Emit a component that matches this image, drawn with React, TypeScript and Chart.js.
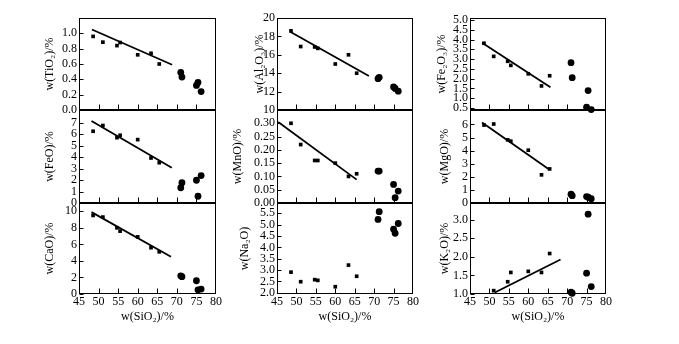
import React, { useEffect, useRef } from "react";
import { Chart, registerables } from "chart.js";

Chart.register(...registerables);

const FONT = "'Liberation Serif', 'Times New Roman', 'DejaVu Serif', serif";

// Shared SiO2 contents (x values)
const siO2Squares = [48.6, 51.1, 54.7, 55.5, 60.0, 63.4, 65.5];
const siO2Circles = [71.0, 71.3, 75.0, 75.4, 76.2];
const xTickValues = [45, 50, 55, 60, 65, 70, 75, 80];
const innerXTicks = [50, 55, 60, 65, 70, 75];

// TiO2
const tiO2Squares = [0.96, 0.885, 0.84, 0.88, 0.72, 0.74, 0.6];
const tiO2Circles = [0.49, 0.43, 0.32, 0.36, 0.24];
const tiO2TrendX = [48.3, 68.8];
const tiO2TrendY = [1.05, 0.59];
const tiO2Ticks = [0, 0.2, 0.4, 0.6, 0.8, 1.0];

// FeO
const feOSquares = [6.25, 6.75, 5.69, 5.9, 5.52, 3.92, 3.51];
const feOCircles = [1.33, 1.77, 1.98, 0.59, 2.39];
const feOTrendX = [48.2, 68.7];
const feOTrendY = [7.14, 3.07];
const feOTicks = [0, 1, 2, 3, 4, 5, 6, 7];

// CaO
const caOSquares = [9.5, 9.3, 8.0, 7.6, 6.9, 5.6, 5.1];
const caOCircles = [2.2, 2.1, 1.6, 0.5, 0.6];
const caOTrendX = [48.2, 68.5];
const caOTrendY = [9.9, 4.5];
const caOTicks = [0, 2, 4, 6, 8, 10];

// Al2O3
const al2O3Squares = [18.6, 16.9, 16.85, 16.7, 15.0, 16.0, 14.0];
const al2O3Circles = [13.4, 13.55, 12.5, 12.35, 12.05];
const al2O3TrendX = [48.4, 68.65];
const al2O3TrendY = [18.5, 13.7];
const al2O3Ticks = [10, 12, 14, 16, 18, 20];

// MnO
const mnOSquares = [0.3, 0.22, 0.16, 0.16, 0.15, 0.1, 0.11];
const mnOCircles = [0.12, 0.12, 0.07, 0.02, 0.045];
const mnOTrendX = [45.3, 65.5];
const mnOTrendY = [0.305, 0.088];
const mnOTicks = [0, 0.05, 0.1, 0.15, 0.2, 0.25, 0.3];

// Na2O
const na2OSquares = [2.91, 2.49, 2.58, 2.55, 2.27, 3.22, 2.73];
const na2OCircles = [5.23, 5.57, 4.8, 4.62, 5.05];
const na2OTicks = [2.0, 2.5, 3.0, 3.5, 4.0, 4.5, 5.0, 5.5];

// Fe2O3
const fe2O3Squares = [3.81, 3.14, 2.89, 2.68, 2.25, 1.63, 2.15];
const fe2O3Circles = [2.82, 2.05, 0.54, 1.39, 0.42];
const fe2O3TrendX = [48.1, 65.7];
const fe2O3TrendY = [3.83, 1.56];
const fe2O3Ticks = [0.5, 1.0, 1.5, 2.0, 2.5, 3.0, 3.5, 4.0, 4.5, 5.0];

// MgO
const mgOSquares = [5.95, 6.03, 4.82, 4.72, 4.03, 2.15, 2.6];
const mgOCircles = [0.67, 0.56, 0.49, 0.44, 0.33];
const mgOTrendX = [48.1, 65.2];
const mgOTrendY = [6.15, 2.6];
const mgOTicks = [0, 1, 2, 3, 4, 5, 6];

// K2O
const k2OSquares = [null, 1.09, 1.33, 1.58, 1.61, 1.58, 2.09];
const k2OCircles = [1.05, 1.02, 1.56, 3.15, 1.2];
const k2OTrendX = [51.4, 68.3];
const k2OTrendY = [1.04, 1.93];
const k2OTicks = [1.0, 1.5, 2.0, 2.5, 3.0];

type Panel = {
  key: string;
  title: string;
  plotL: number;
  plotT: number;
  plotW: number;
  plotH: number;
  axisW: number;
  bottom: boolean;
  yMin: number;
  yMax: number;
  yTicks: number[];
  dec: number;
  sq: (number | null)[];
  ci: (number | null)[];
  tx?: number[];
  ty?: number[];
};

const COLS = [
  { l: 79, w: 137 },
  { l: 277, w: 136 },
  { l: 470, w: 136 },
];
const ROWS = [
  { t: 18, h: 92 },
  { t: 110, h: 93 },
  { t: 203, h: 91 },
];

const mk = (
  key: string,
  c: number,
  r: number,
  axisW: number,
  title: string,
  yMin: number,
  yMax: number,
  yTicks: number[],
  dec: number,
  sq: (number | null)[],
  ci: (number | null)[],
  tx?: number[],
  ty?: number[]
): Panel => ({
  key,
  title,
  plotL: COLS[c].l,
  plotT: ROWS[r].t,
  plotW: COLS[c].w,
  plotH: ROWS[r].h,
  axisW,
  bottom: r === 2,
  yMin,
  yMax,
  yTicks,
  dec,
  sq,
  ci,
  tx,
  ty,
});

const PANELS: Panel[] = [
  mk("tio2", 0, 0, 36, "w(TiO\u2082)/%", 0, 1.2, tiO2Ticks, 1, tiO2Squares, tiO2Circles, tiO2TrendX, tiO2TrendY),
  mk("feo", 0, 1, 36, "w(FeO)/%", 0, 8.1, feOTicks, 0, feOSquares, feOCircles, feOTrendX, feOTrendY),
  mk("cao", 0, 2, 36, "w(CaO)/%", 0, 11, caOTicks, 0, caOSquares, caOCircles, caOTrendX, caOTrendY),
  mk("al2o3", 1, 0, 24, "w(Al\u2082O\u2083)/%", 10, 20, al2O3Ticks, 0, al2O3Squares, al2O3Circles, al2O3TrendX, al2O3TrendY),
  mk("mno", 1, 1, 46, "w(MnO)/%", 0, 0.35, mnOTicks, 2, mnOSquares, mnOCircles, mnOTrendX, mnOTrendY),
  mk("na2o", 1, 2, 39, "w(Na\u2082O)", 1.95, 5.95, na2OTicks, 1, na2OSquares, na2OCircles),
  mk("fe2o3", 2, 0, 35, "w(Fe\u2082O\u2083)/%", 0.4, 5.1, fe2O3Ticks, 1, fe2O3Squares, fe2O3Circles, fe2O3TrendX, fe2O3TrendY),
  mk("mgo", 2, 1, 32, "w(MgO)/%", 0, 7.1, mgOTicks, 0, mgOSquares, mgOCircles, mgOTrendX, mgOTrendY),
  mk("k2o", 2, 2, 32, "w(K\u2082O)/%", 1.0, 3.45, k2OTicks, 1, k2OSquares, k2OCircles, k2OTrendX, k2OTrendY),
];

const PAD_T = 10;
const PAD_R = 10;
const PAD_B = 10;
const X_AXIS_H = 30;

const framePlugin = {
  id: "frame",
  afterDatasetsDraw(chart: any) {
    const { ctx, chartArea: a, scales } = chart;
    ctx.save();
    ctx.strokeStyle = "#000";
    ctx.lineWidth = 1;
    const L = Math.round(a.left) + 0.5;
    const T = Math.round(a.top) + 0.5;
    const R = Math.round(a.right) - 0.5;
    const B = Math.round(a.bottom) - 0.5;
    ctx.strokeRect(L, T, R - L, B - T);
    ctx.beginPath();
    for (const v of innerXTicks) {
      const px = Math.round(scales.x.getPixelForValue(v)) + 0.5;
      ctx.moveTo(px, B);
      ctx.lineTo(px, B - 5);
    }
    for (const t of scales.y.ticks) {
      const py = Math.round(scales.y.getPixelForValue(t.value)) + 0.5;
      ctx.moveTo(L, py);
      ctx.lineTo(L + 4, py);
    }
    ctx.stroke();
    ctx.restore();
  },
};

function PanelChart({ p }: { p: Panel }) {
  const ref = useRef<HTMLCanvasElement | null>(null);
  const width = p.axisW + p.plotW + PAD_R;
  const height = PAD_T + p.plotH + (p.bottom ? X_AXIS_H : PAD_B);

  useEffect(() => {
    if (!ref.current) return;
    const sqData = siO2Squares
      .map((x, i) => ({ x, y: p.sq[i] }))
      .filter((d) => d.y !== null && d.y !== undefined);
    const ciData = siO2Circles
      .map((x, i) => ({ x, y: p.ci[i] }))
      .filter((d) => d.y !== null && d.y !== undefined);
    const datasets: any[] = [
      {
        data: sqData,
        pointStyle: "rect",
        pointRadius: 2.6,
        backgroundColor: "#000",
        borderColor: "#000",
        borderWidth: 0,
        showLine: false,
        clip: false,
      },
      {
        data: ciData,
        pointStyle: "circle",
        pointRadius: 3.4,
        backgroundColor: "#000",
        borderColor: "#000",
        borderWidth: 0,
        showLine: false,
        clip: false,
      },
    ];
    if (p.tx && p.ty) {
      datasets.push({
        data: p.tx.map((x, i) => ({ x, y: p.ty![i] })),
        showLine: true,
        pointRadius: 0,
        borderColor: "#000",
        borderWidth: 1.8,
        fill: false,
      });
    }
    const yTicks = p.yTicks;
    const chart = new Chart(ref.current, {
      type: "scatter",
      data: { datasets },
      plugins: [framePlugin],
      options: {
        responsive: false,
        maintainAspectRatio: false,
        animation: false,
        devicePixelRatio: 1,
        events: [],
        layout: {
          padding: { left: 0, top: PAD_T, right: PAD_R, bottom: p.bottom ? 0 : PAD_B },
        },
        plugins: {
          legend: { display: false },
          tooltip: { enabled: false },
        },
        scales: {
          x: {
            type: "linear",
            min: 45,
            max: 80,
            display: p.bottom,
            afterBuildTicks: (s: any) => {
              s.ticks = xTickValues.map((v) => ({ value: v }));
            },
            afterFit: (s: any) => {
              s.height = p.bottom ? X_AXIS_H : 0;
            },
            grid: { display: false, drawTicks: false },
            border: { display: false },
            ticks: {
              color: "#000",
              font: { family: FONT, size: 12 },
              padding: 1,
              maxRotation: 0,
              autoSkip: false,
              callback: (v: any) => String(v),
            },
            title: {
              display: p.bottom,
              text: "w(SiO\u2082)/%",
              color: "#000",
              font: { family: FONT, size: 12 },
              padding: 0,
            },
          },
          y: {
            type: "linear",
            min: p.yMin,
            max: p.yMax,
            afterBuildTicks: (s: any) => {
              s.ticks = yTicks.map((v) => ({ value: v }));
            },
            afterFit: (s: any) => {
              s.width = p.axisW;
            },
            grid: { display: false, drawTicks: false },
            border: { display: false },
            ticks: {
              color: "#000",
              font: { family: FONT, size: 12 },
              padding: 2,
              autoSkip: false,
              callback: (v: any) => Number(v).toFixed(p.dec),
            },
            title: {
              display: true,
              text: p.title,
              color: "#000",
              font: { family: FONT, size: 12 },
              padding: 0,
            },
          },
        },
      } as any,
    });
    return () => chart.destroy();
  }, []);

  return (
    <canvas
      ref={ref}
      width={width}
      height={height}
      style={{
        position: "absolute",
        left: p.plotL - p.axisW,
        top: p.plotT - PAD_T,
        width,
        height,
      }}
    />
  );
}

export default function App() {
  return (
    <div
      style={{
        position: "absolute",
        left: 0,
        top: 0,
        width: 679,
        height: 344,
        background: "#fff",
        overflow: "hidden",
      }}
    >
      {PANELS.map((p) => (
        <PanelChart key={p.key} p={p} />
      ))}
    </div>
  );
}
